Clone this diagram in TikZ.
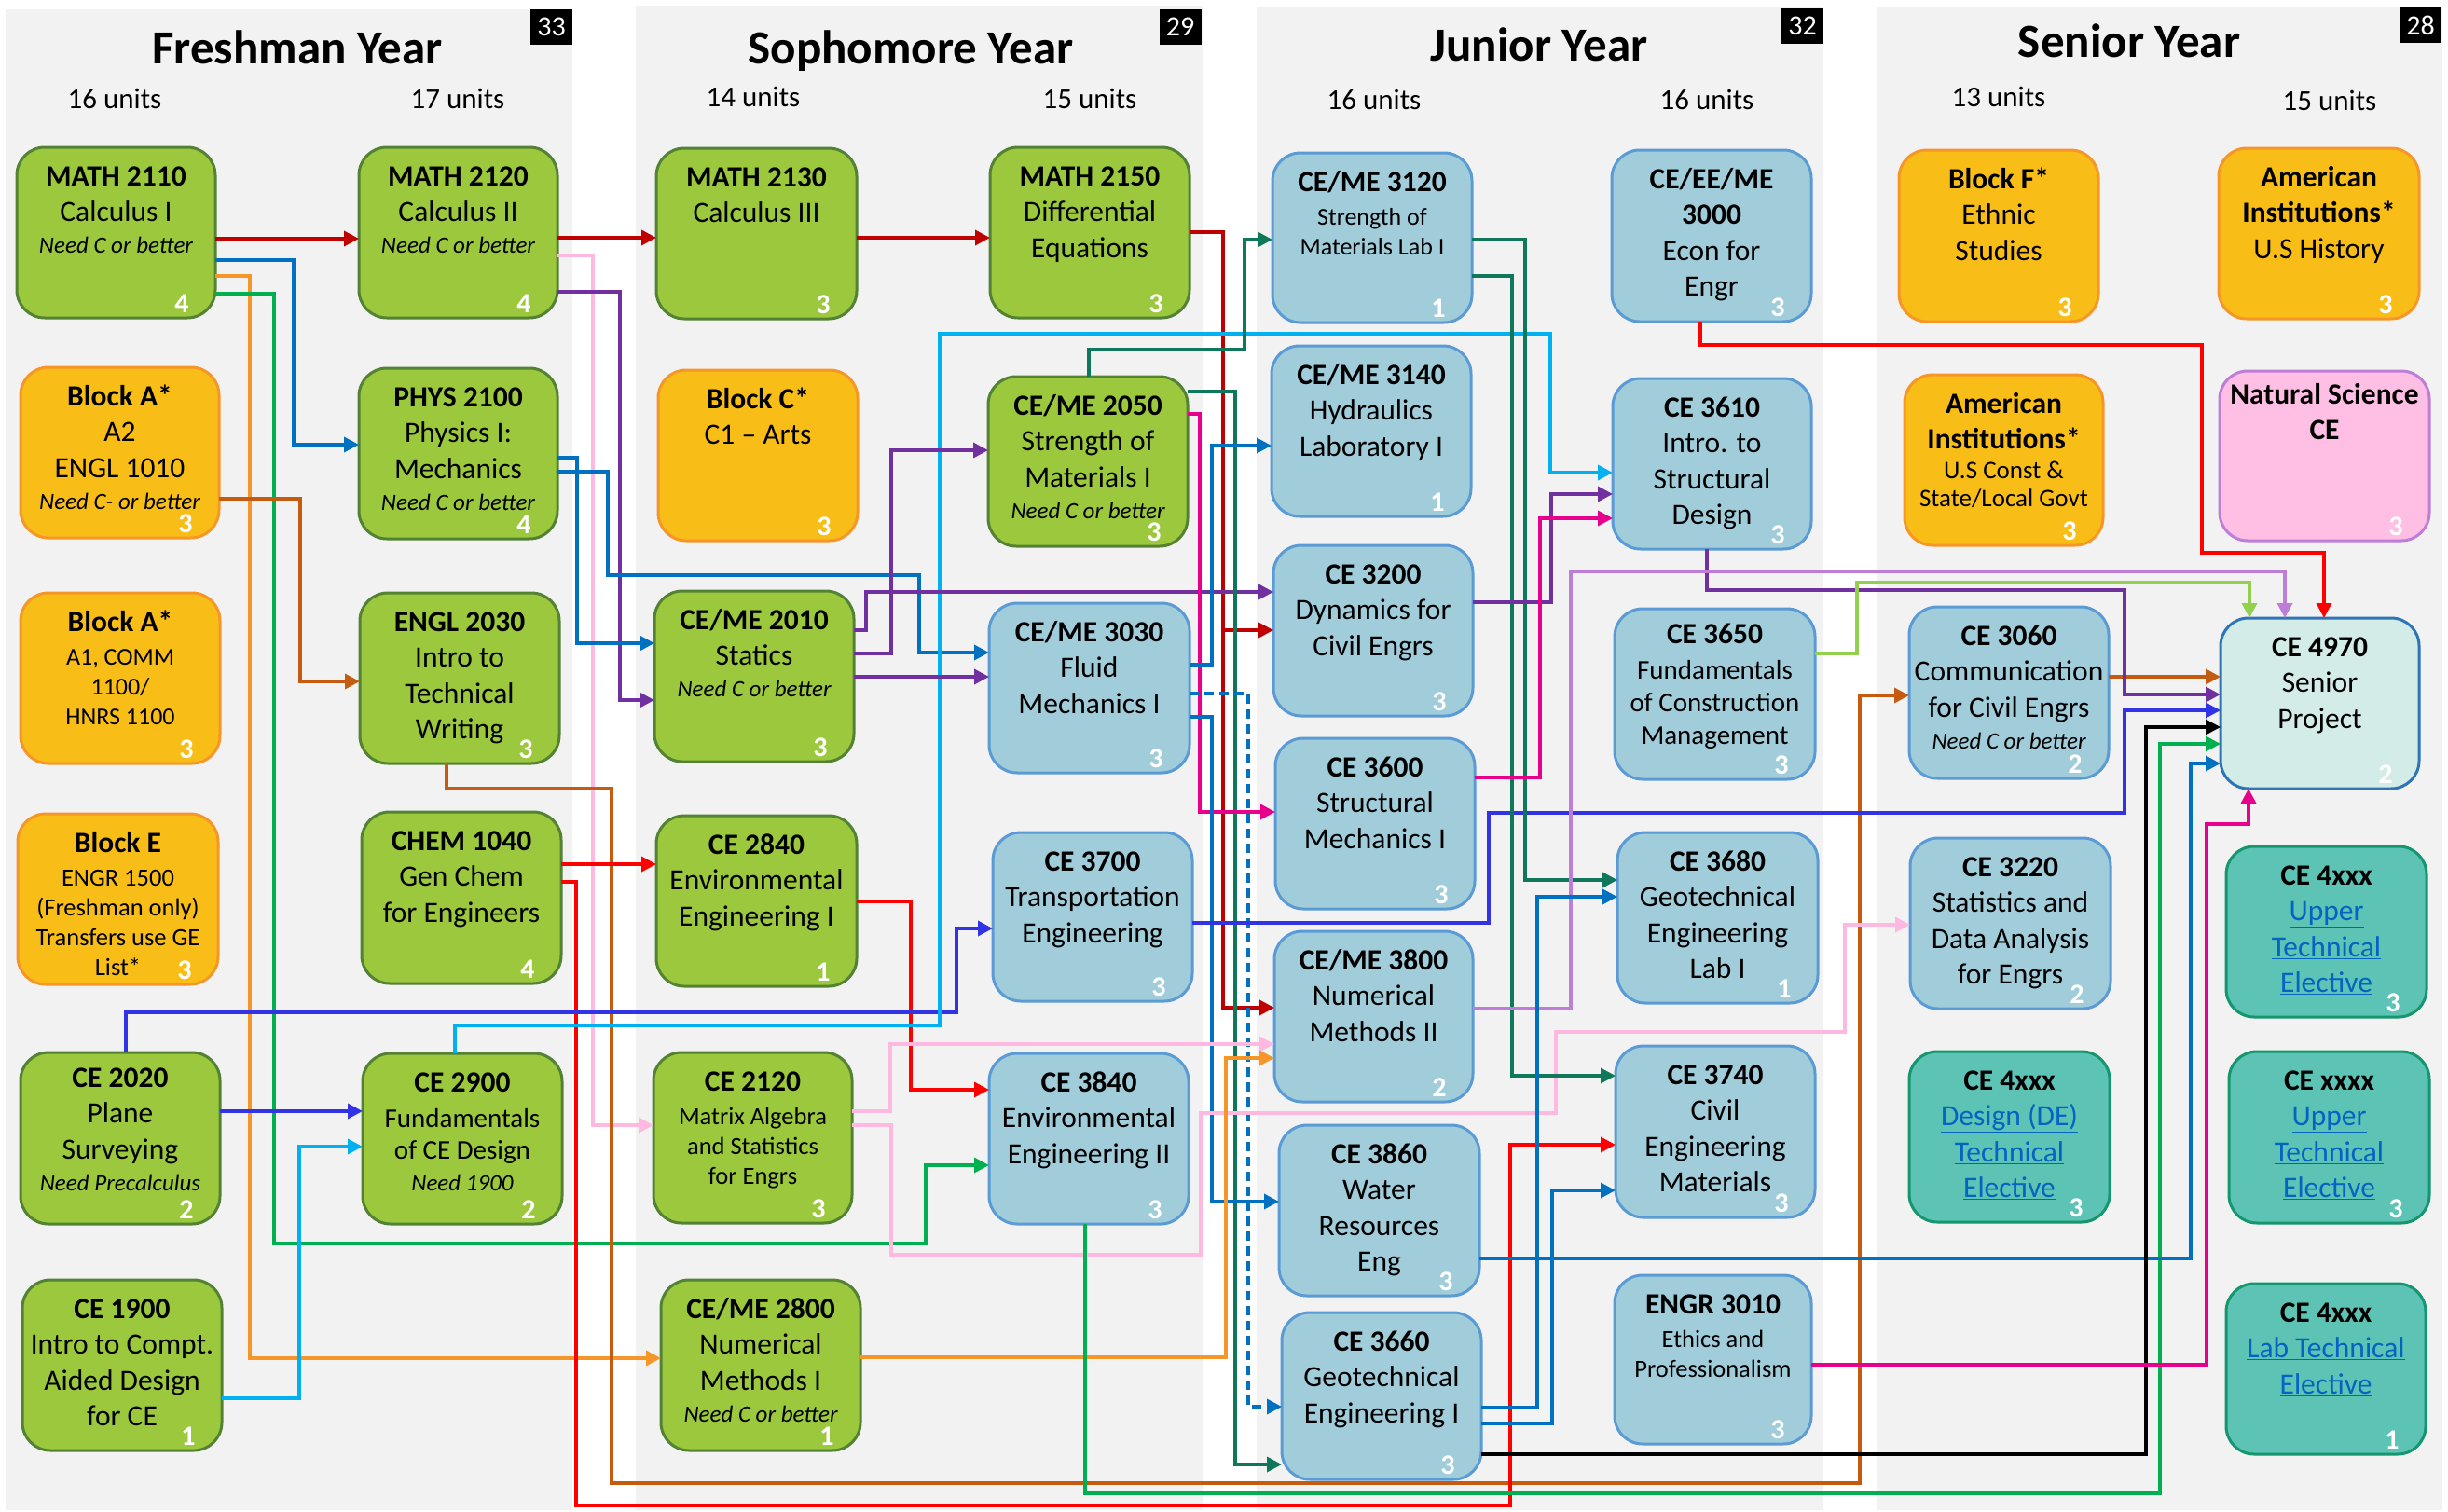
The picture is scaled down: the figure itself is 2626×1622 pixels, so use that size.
\documentclass[tikz,border=0pt]{standalone}
\usepackage{fontspec}
\setmainfont{Carlito}
\usetikzlibrary{arrows.meta}
\definecolor{panel}{RGB}{242,242,242}
\definecolor{gF}{RGB}{155,200,60}\definecolor{gD}{RGB}{84,130,53}
\definecolor{oF}{RGB}{248,190,23}\definecolor{oD}{RGB}{247,150,40}
\definecolor{bF}{RGB}{161,205,219}\definecolor{bD}{RGB}{91,155,213}
\definecolor{tF}{RGB}{92,195,181}\definecolor{tD}{RGB}{20,150,110}
\definecolor{pF}{RGB}{255,190,228}\definecolor{pD}{RGB}{190,125,215}
\definecolor{sF}{RGB}{212,236,232}\definecolor{sD}{RGB}{46,117,182}
\definecolor{linkblue}{RGB}{5,99,193}
\definecolor{cDarkred}{RGB}{192,0,0}
\definecolor{cRed}{RGB}{255,0,0}
\definecolor{cBlue}{RGB}{0,112,192}
\definecolor{cOrange}{RGB}{247,150,40}
\definecolor{cGreen}{RGB}{0,176,80}
\definecolor{cPink}{RGB}{255,185,225}
\definecolor{cPurple}{RGB}{112,48,160}
\definecolor{cBrown}{RGB}{197,90,17}
\definecolor{cBBlue}{RGB}{51,51,230}
\definecolor{cCyan}{RGB}{0,176,240}
\definecolor{cTeal}{RGB}{15,120,90}
\definecolor{cMagenta}{RGB}{230,0,140}
\definecolor{cLilac}{RGB}{190,125,215}
\definecolor{cLgreen}{RGB}{146,208,80}
\newcommand\cB[1]{{\bfseries #1}}
\newcommand\cBt[1]{{\fontsize{31.5}{32}\selectfont\bfseries #1}}
\newcommand\cI[1]{{\fontsize{25}{34}\selectfont\itshape #1}}
\newcommand\cLk[1]{\textcolor{linkblue}{\underline{#1}}}
\tikzset{
  cbox/.style={draw, rounded corners=30pt, line width=3pt, inner sep=0pt, outer sep=0pt},
  gbx/.style={cbox, fill=gF, draw=gD},
  obx/.style={cbox, fill=oF, draw=oD},
  bbx/.style={cbox, fill=bF, draw=bD},
  tbx/.style={cbox, fill=tF, draw=tD},
  pbx/.style={cbox, fill=pF, draw=pD},
  sbx/.style={cbox, fill=sF, draw=sD},
  ctext/.style={anchor=north, align=center, inner sep=0pt, font=\fontsize{31.5}{38.5}\selectfont},
  numlab/.style={text=white, inner sep=0pt, font=\bfseries\fontsize{30}{30}\selectfont},
  ttl/.style={anchor=base, font=\bfseries\fontsize{51}{51}\selectfont},
  units/.style={anchor=base, font=\fontsize{31}{31}\selectfont},
  badge/.style={fill=black, text=white, inner sep=0pt, minimum width=45pt, minimum height=38pt, font=\fontsize{30}{30}\selectfont},
  cn/.style={line width=3.5pt, -{Triangle[length=16pt,width=16pt]}}
}
\newcommand\crs[9][]{%
  \node[#3, minimum width={(#6-#4)*1pt}, minimum height={(#7-#5)*1pt}] (#2) at ({(#4+#6)/2},{(#5+#7)/2}) {};
  \node[ctext,#1] (#2-t) at ({(#4+#6)/2},{#5+17}) {\rule{0pt}{24pt}#8};
  \node[numlab] (#2-n) at ({#6-36},{#7-15}) {#9};
}
\begin{document}
\begin{tikzpicture}[x=1pt,y=-1pt]
\useasboundingbox (0,0) rectangle (2626,1622);
\fill[white] (0,0) rectangle (2626,1622);
\fill[panel] (6,10) rectangle (614,1620);
\fill[panel] (682,6) rectangle (1291,1620);
\fill[panel] (1348,8) rectangle (1956,1620);
\fill[panel] (2013,8) rectangle (2620,1620);
% titles
\node[ttl] (t-fr) at (319,68) {Freshman Year};
\node[ttl] (t-so) at (977,68) {Sophomore Year};
\node[ttl] (t-ju) at (1651,65) {Junior Year};
\node[ttl] (t-se) at (2284,61) {Senior Year};
\node[units] (u1) at (123,116) {16 units};
\node[units] (u2) at (491,116) {17 units};
\node[units] (u3) at (808,114) {14 units};
\node[units] (u4) at (1169,116) {15 units};
\node[units] (u5) at (1474,117) {16 units};
\node[units] (u6) at (1831,117) {16 units};
\node[units] (u7) at (2144,114) {13 units};
\node[units] (u8) at (2499,118) {15 units};
\node[badge] (bd1) at (591.5,29) {33};
\node[badge] (bd2) at (1266,29) {29};
\node[badge] (bd3) at (1933.5,28) {32};
\node[badge] (bd4) at (2596.5,27) {28};
% Freshman
\crs{m2110}{gbx}{18}{158}{231}{341}{\cB{MATH 2110}\\Calculus I\\[-4.5pt]\cI{Need C or better}}{4}
\crs{blkA2}{obx}{22}{394}{235}{577}{\cB{Block A*}\\A2\\ENGL 1010\\[-4.5pt]\cI{Need C- or better}}{3}
\crs[font=\fontsize{26}{32}\selectfont]{blkA1}{obx}{22}{636}{236}{819}{\cBt{Block A*}\\[4pt]A1, COMM\\1100/\\HNRS 1100}{3}
\crs[font=\fontsize{26.5}{32}\selectfont]{blkE}{obx}{19}{873}{234}{1056}{\cBt{Block E}\\[4pt]ENGR 1500\\(Freshman only)\\Transfers use GE\\List*}{3}
\crs[yshift=4pt]{ce2020}{gbx}{22}{1129}{236}{1313}{\cB{CE 2020}\\Plane\\Surveying\\[-4.5pt]\cI{Need Precalculus}}{2}
\crs{ce1900}{gbx}{24}{1373}{238}{1556}{\cB{CE 1900}\\Intro to Compt.\\Aided Design\\for CE}{1}
\crs{m2120}{gbx}{385}{158}{598}{341}{\cB{MATH 2120}\\Calculus II\\[-4.5pt]\cI{Need C or better}}{4}
\crs{phys}{gbx}{385}{395}{598}{578}{\cB{PHYS 2100}\\Physics I:\\Mechanics\\[-4.5pt]\cI{Need C or better}}{4}
\crs{engl}{gbx}{386}{636}{600}{819}{\cB{ENGL 2030}\\Intro to\\Technical\\Writing}{3}
\crs{chem}{gbx}{388}{871}{602}{1055}{\cB{CHEM 1040}\\Gen Chem\\for Engineers}{4}
\crs[font=\fontsize{29}{34}\selectfont]{ce2900}{gbx}{389}{1130}{603}{1313}{\cBt{CE 2900}\\[4pt]Fundamentals\\of CE Design\\\cI{Need 1900}}{2}
% Sophomore
\crs{m2130}{gbx}{704}{159}{919}{342}{\cB{MATH 2130}\\Calculus III}{3}
\crs{blkC}{obx}{706}{397}{920}{580}{\cB{Block C*}\\C1 -- Arts}{3}
\crs{ce2010}{gbx}{702}{634}{916}{817}{\cB{CE/ME 2010}\\Statics\\[-4.5pt]\cI{Need C or better}}{3}
\crs{ce2840}{gbx}{704}{875}{919}{1058}{\cB{CE 2840}\\Environmental\\Engineering I}{1}
\crs[font=\fontsize{26.5}{32}\selectfont]{ce2120}{gbx}{701}{1129}{914}{1312}{\cBt{CE 2120}\\[4pt]Matrix Algebra\\and Statistics\\for Engrs}{3}
\crs{ce2800}{gbx}{709}{1373}{923}{1556}{\cB{CE/ME 2800}\\Numerical\\Methods I\\[-4.5pt]\cI{Need C or better}}{1}
\crs{m2150}{gbx}{1062}{158}{1276}{341}{\cB{MATH 2150}\\Differential\\Equations}{3}
\crs{ce2050}{gbx}{1060}{404}{1274}{586}{\cB{CE/ME 2050}\\Strength of\\Materials I\\[-4.5pt]\cI{Need C or better}}{3}
\crs{ce3030}{bbx}{1061}{647}{1276}{829}{\cB{CE/ME 3030}\\Fluid\\Mechanics I}{3}
\crs{ce3700}{bbx}{1065}{893}{1279}{1074}{\cB{CE 3700}\\Transportation\\Engineering}{3}
\crs{ce3840}{bbx}{1061}{1130}{1275}{1313}{\cB{CE 3840}\\Environmental\\Engineering II}{3}
% Junior
\crs[font=\fontsize{26}{32}\selectfont]{ce3120}{bbx}{1365}{164}{1579}{346}{\cBt{CE/ME 3120}\\[4pt]Strength of\\Materials Lab I}{1}
\crs{ce3140}{bbx}{1364}{371}{1578}{554}{\cB{CE/ME 3140}\\Hydraulics\\Laboratory I}{1}
\crs{ce3200}{bbx}{1366}{585}{1580}{768}{\cB{CE 3200}\\Dynamics for\\Civil Engrs}{3}
\crs{ce3600}{bbx}{1368}{792}{1582}{975}{\cB{CE 3600}\\Structural\\Mechanics I}{3}
\crs{ce3800}{bbx}{1367}{999}{1580}{1182}{\cB{CE/ME 3800}\\Numerical\\Methods II}{2}
\crs{ce3860}{bbx}{1372}{1207}{1587}{1390}{\cB{CE 3860}\\Water\\Resources\\Eng}{3}
\crs{ce3660}{bbx}{1375}{1408}{1589}{1587}{\cB{CE 3660}\\Geotechnical\\Engineering I}{3}
\crs{ce3000}{bbx}{1729}{161}{1943}{345}{\cB{CE/EE/ME}\\\cB{3000}\\Econ for\\Engr}{3}
\crs{ce3610}{bbx}{1730}{406}{1943}{589}{\cB{CE 3610}\\Intro. to\\Structural\\Design}{3}
\crs[font=\fontsize{29}{35}\selectfont,yshift=4pt]{ce3650}{bbx}{1732}{653}{1947}{836}{\cBt{CE 3650}\\[3pt]Fundamentals\\of Construction\\Management}{3}
\crs{ce3680}{bbx}{1735}{893}{1950}{1076}{\cB{CE 3680}\\Geotechnical\\Engineering\\Lab I}{1}
\crs{ce3740}{bbx}{1733}{1122}{1947}{1306}{\cB{CE 3740}\\Civil\\Engineering\\Materials}{3}
\crs[font=\fontsize{26.5}{32}\selectfont]{engr}{bbx}{1732}{1368}{1943}{1549}{\cBt{ENGR 3010}\\[4pt]Ethics and\\Professionalism}{3}
% Senior
\crs{blkF}{obx}{2037}{161}{2251}{345}{\cB{Block F*}\\Ethnic\\Studies}{3}
\crs{amC}{obx}{2043}{402}{2256}{585}{\cB{American}\\\cB{Institutions*}\\[-7pt]{\fontsize{27}{30}\selectfont U.S Const \&}\\[-8pt]{\fontsize{27}{30}\selectfont State/Local Govt}}{3}
\crs{ce3060}{bbx}{2048}{651}{2262}{835}{\cB{CE 3060}\\Communication\\for Civil Engrs\\[-4.5pt]\cI{Need C or better}}{2}
\crs{ce3220}{bbx}{2049}{899}{2264}{1082}{\cB{CE 3220}\\Statistics and\\Data Analysis\\for Engrs}{2}
\crs{ce4de}{tbx}{2048}{1128}{2263}{1311}{\cB{CE 4xxx}\\\cLk{Design (DE)}\\\cLk{Technical}\\\cLk{Elective}}{3}
\crs{amH}{obx}{2380}{159}{2595}{342}{\cB{American}\\\cB{Institutions*}\\U.S History}{3}
\crs[yshift=6pt]{natsci}{pbx}{2381}{398}{2606}{580}{\cB{Natural Science}\\\cB{CE}}{3}
\crs{ce4970}{sbx}{2382}{663}{2595}{846}{\cB{CE 4970}\\Senior\\Project}{2}
\crs{ce4up}{tbx}{2388}{908}{2603}{1091}{\cB{CE 4xxx}\\\cLk{Upper}\\\cLk{Technical}\\\cLk{Elective}}{3}
\crs{cexx}{tbx}{2391}{1128}{2606}{1312}{\cB{CE xxxx}\\\cLk{Upper}\\\cLk{Technical}\\\cLk{Elective}}{3}
\crs{ce4lab}{tbx}{2388}{1377}{2602}{1560}{\cB{CE 4xxx}\\\cLk{Lab Technical}\\\cLk{Elective}}{1}
% connectors
\draw[cn,cDarkred] (m2110.east |- 0,256) -- (m2120.west |- 0,256);
\draw[cn,cDarkred] (m2120.east |- 0,255) -- (m2130.west |- 0,255);
\draw[cn,cDarkred] (m2130.east |- 0,255) -- (m2150.west |- 0,255);
\draw[cn,cDarkred] (m2150.east |- 0,249) -- (1312,249) -- (1312,1081) -- (ce3800.west |- 0,1081);
\coordinate (rj) at (1312,676);
\draw[cn,cDarkred] (rj) -- (ce3200.west |- 0,676);
\draw[cn,cBlue] (m2110.east |- 0,279) -- (315,279) -- (315,477) -- (phys.west |- 0,477);
\draw[cn,cOrange] (m2110.east |- 0,296) -- (268,296) -- (268,1457) -- (ce2800.west |- 0,1457);
\draw[cn,cGreen] (m2110.east |- 0,315) -- (294,315) -- (294,1334) -- (993,1334) -- (993,1250) -- (ce3840.west |- 0,1250);
\draw[cn,cPink] (m2120.east |- 0,274) -- (636,274) -- (636,1207) -- (ce2120.west |- 0,1207);
\draw[cn,cPurple] (m2120.east |- 0,313) -- (665,313) -- (665,751) -- (ce2010.west |- 0,751);
\draw[cn,cBlue] (phys.east |- 0,491) -- (619,491) -- (619,690) -- (ce2010.west |- 0,690);
\draw[cn,cBlue] (phys.east |- 0,506) -- (652,506) -- (652,617) -- (986,617) -- (986,700) -- (ce3030.west |- 0,700);
\draw[cn,cBrown] (blkA2.east |- 0,535) -- (322,535) -- (322,731) -- (engl.west |- 0,731);
\draw[cn,cBrown] (engl.south -| 479,0) -- (479,846) -- (656,846) -- (656,1591) -- (1995,1591) -- (1995,746) -- (ce3060.west |- 0,746);
\draw[cn,cBrown] (ce3060.east |- 0,726) -- (ce4970.west |- 0,726);
\draw[cn,cRed] (chem.east |- 0,927) -- (ce2840.west |- 0,927);
\draw[cn,cRed] (chem.east |- 0,946) -- (618,946) -- (618,1615) -- (1620,1615) -- (1620,1228) -- (ce3740.west |- 0,1228);
\draw[cn,cRed] (ce2840.east |- 0,967) -- (977,967) -- (977,1169) -- (ce3840.west |- 0,1169);
\draw[cn,cBBlue] (ce2020.north -| 135,0) -- (135,1086) -- (1026,1086) -- (1026,996) -- (ce3700.west |- 0,996);
\draw[cn,cBBlue] (ce2020.east |- 0,1192) -- (ce2900.west |- 0,1192);
\draw[cn,cCyan] (ce2900.north -| 488,0) -- (488,1100) -- (1008,1100) -- (1008,358) -- (1663,358) -- (1663,507) -- (ce3610.west |- 0,507);
\draw[cn,cCyan] (ce1900.east |- 0,1500) -- (321,1500) -- (321,1230) -- (ce2900.west |- 0,1230);
\draw[cn,cPurple] (ce2010.east |- 0,676) -- (929,676) -- (929,635) -- (ce3200.west |- 0,635);
\draw[cn,cPurple] (ce2010.east |- 0,701) -- (956,701) -- (956,483) -- (ce2050.west |- 0,483);
\draw[cn,cPurple] (ce2010.east |- 0,726) -- (ce3030.west |- 0,726);
\draw[cn,cTeal] (ce2050.north -| 1168,0) -- (1168,375) -- (1335,375) -- (1335,257) -- (ce3120.west |- 0,257);
\draw[cn,cTeal] (ce2050.east |- 0,420) -- (1325,420) -- (1325,1571) -- (ce3660.west |- 0,1571);
\draw[cn,cMagenta] (ce2050.east |- 0,444) -- (1287,444) -- (1287,871) -- (ce3600.west |- 0,871);
\draw[cn,cBlue] (ce3030.east |- 0,713) -- (1300,713) -- (1300,478) -- (ce3140.west |- 0,478);
\draw[cn,cBlue,dash pattern=on 10pt off 6pt] (ce3030.east |- 0,744) -- (1339,744) -- (1339,1509) -- (ce3660.west |- 0,1509);
\draw[cn,cBlue] (ce3030.east |- 0,769) -- (1300,769) -- (1300,1289) -- (ce3860.west |- 0,1289);
\draw[cn,cBBlue] (ce3700.east |- 0,990) -- (1597,990) -- (1597,872) -- (2279,872) -- (2279,762) -- (ce4970.west |- 0,762);
\draw[cn,cPink] (ce2120.east |- 0,1192) -- (955,1192) -- (955,1120) -- (ce3800.west |- 0,1120);
\draw[cn,cPink] (ce2120.east |- 0,1207) -- (956,1207) -- (956,1346) -- (1288,1346) -- (1288,1194) -- (1669,1194) -- (1669,1107) -- (1979,1107) -- (1979,992) -- (ce3220.west |- 0,992);
\draw[cn,cOrange] (ce2800.east |- 0,1456) -- (1315,1456) -- (1315,1135) -- (ce3800.west |- 0,1135);
\draw[cn,cGreen] (ce3840.south -| 1164,0) -- (1164,1602) -- (2317,1602) -- (2317,798) -- (ce4970.west |- 0,798);
\draw[cn,cTeal] (ce3120.east |- 0,257) -- (1636,257) -- (1636,944) -- (ce3680.west |- 0,944);
\draw[cn,cTeal] (ce3120.east |- 0,296) -- (1622,296) -- (1622,1154) -- (ce3740.west |- 0,1154);
\draw[cn,cPurple] (ce3200.east |- 0,646) -- (1664,646) -- (1664,530) -- (ce3610.west |- 0,530);
\draw[cn,cMagenta] (ce3600.east |- 0,834) -- (1652,834) -- (1652,556) -- (ce3610.west |- 0,556);
\draw[cn,cPurple] (ce3610.south -| 1831,0) -- (1831,633) -- (2279,633) -- (2279,745) -- (ce4970.west |- 0,745);
\draw[cn,cLilac] (ce3800.east |- 0,1082) -- (1685,1082) -- (1685,613) -- (2451,613) -- (ce4970.north -| 2451,0);
\draw[cn,cLgreen] (ce3650.east |- 0,701) -- (1992,701) -- (1992,625) -- (2413,625) -- (ce4970.north -| 2413,0);
\draw[cn,cRed] (ce3000.south -| 1824,0) -- (1824,370) -- (2362,370) -- (2362,593) -- (2493,593) -- (ce4970.north -| 2493,0);
\draw[cn,cBlue] (ce3860.east |- 0,1350) -- (2350,1350) -- (2350,819) -- (ce4970.west |- 0,819);
\draw[cn,cBlue] (ce3660.east |- 0,1510) -- (1649,1510) -- (1649,962) -- (ce3680.west |- 0,962);
\draw[cn,cBlue] (ce3660.east |- 0,1527) -- (1665,1527) -- (1665,1277) -- (ce3740.west |- 0,1277);
\draw[cn,black] (ce3660.east |- 0,1560) -- (2302,1560) -- (2302,780) -- (ce4970.west |- 0,780);
\draw[cn,cMagenta] (engr.east |- 0,1464) -- (2367,1464) -- (2367,884) -- (2412,884) -- (ce4970.south -| 2412,0);
\end{tikzpicture}
\end{document}
